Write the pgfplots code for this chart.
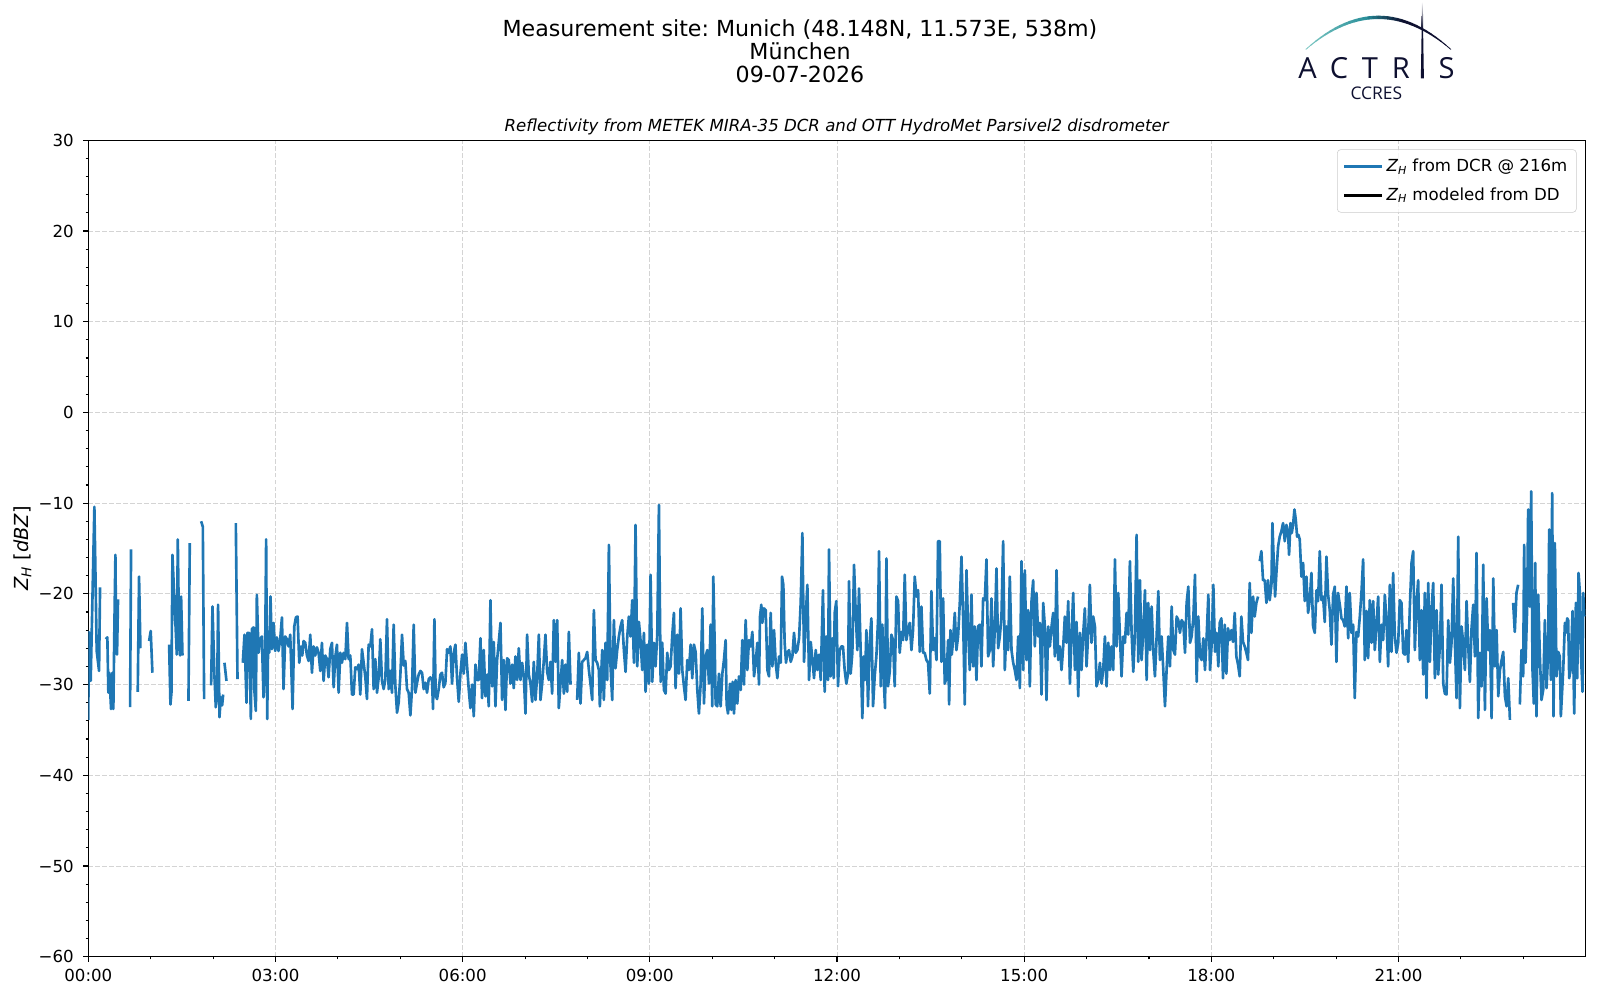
\documentclass[border=0pt]{standalone}
\usepackage{fontspec}
\setmainfont{DejaVu Sans}
\newfontfamily\logofont{Open Sans}
\usepackage{pgfplots}
\usepackage{pgfplotstable}
\pgfplotsset{compat=1.18}
\definecolor{mplblue}{RGB}{31,119,180}
\definecolor{gridgray}{RGB}{212,212,212}
\definecolor{legframe}{RGB}{204,204,204}
\definecolor{actnavy}{RGB}{14,16,48}
\definecolor{actlight}{RGB}{125,200,195}
\definecolor{actmid}{RGB}{38,140,152}
\frenchspacing

\pgfplotstableread{
h v
0.000 -33.9
0.006 -24.2
0.038 -29.6
0.097 -10.4
0.134 -26.3
0.172 -28.5
0.188 -19.3
0.230 nan
0.279 -25.0
0.305 -24.8
0.321 -30.9
0.337 -28.7
0.364 -32.7
0.385 -28.7
0.401 -32.7
0.418 -23.4
0.434 -15.7
0.444 -23.4
0.460 -26.7
0.476 -20.6
0.570 nan
0.669 -32.5
0.685 -15.1
0.740 nan
0.792 -30.8
0.813 -18.1
0.835 -26.0
0.900 nan
0.974 -25.2
1.000 -24.1
1.027 -28.7
1.150 nan
1.295 -25.6
1.316 -32.2
1.332 -30.9
1.348 -15.7
1.418 -26.7
1.434 -14.0
1.455 -25.0
1.471 -26.8
1.487 -20.3
1.509 -26.8
1.550 nan
1.605 -31.8
1.626 -14.4
1.700 nan
1.808 -12.0
1.835 -12.6
1.856 -31.6
1.900 nan
1.968 -30.1
1.990 -21.4
2.021 -29.0
2.043 -32.5
2.065 -30.5
2.080 -21.2
2.102 -33.6
2.123 -31.4
2.145 -32.3
2.161 -31.1
2.170 nan
2.182 -27.6
2.214 -29.6
2.280 nan
2.364 -12.2
2.391 -29.4
2.430 nan
2.476 -27.6
2.503 -24.5
2.535 -32.0
2.551 -24.3
2.578 -24.3
2.605 -33.8
2.621 -23.9
2.648 -23.7
2.664 -30.9
2.685 -32.9
2.701 -20.1
2.728 -26.5
2.754 -25.0
2.781 -24.7
2.808 -31.4
2.834 -26.5
2.850 -14.0
2.867 -33.8
2.883 -24.7
2.899 -26.5
2.920 -20.3
2.942 -26.1
2.968 -23.2
2.995 -26.3
3.022 -24.8
3.048 -26.3
3.076 -25.0
3.103 -22.6
3.129 -30.5
3.156 -24.7
3.183 -25.0
3.210 -25.8
3.236 -24.5
3.274 -32.7
3.301 -23.6
3.327 -22.6
3.354 -22.5
3.381 -27.6
3.408 -25.8
3.429 -26.8
3.450 -25.2
3.477 -25.4
3.504 -26.8
3.531 -27.4
3.557 -24.5
3.584 -28.7
3.611 -25.8
3.637 -26.8
3.664 -25.9
3.691 -26.5
3.718 -28.5
3.744 -25.4
3.771 -29.6
3.798 -26.8
3.825 -27.2
3.851 -29.2
3.878 -26.1
3.905 -25.4
3.932 -30.3
3.958 -27.0
3.985 -25.6
4.012 -30.9
4.039 -26.5
4.065 -27.6
4.092 -26.5
4.119 -27.2
4.146 -23.2
4.172 -27.2
4.199 -26.8
4.226 -31.1
4.252 -31.1
4.279 -28.1
4.306 -28.3
4.333 -27.8
4.359 -31.1
4.386 -26.1
4.413 -27.6
4.440 -29.2
4.466 -31.6
4.493 -25.6
4.520 -25.8
4.547 -23.9
4.573 -30.5
4.600 -27.2
4.627 -30.9
4.654 -29.2
4.680 -25.0
4.707 -29.6
4.734 -30.5
4.761 -29.4
4.787 -22.8
4.814 -30.5
4.841 -28.5
4.867 -30.9
4.894 -23.4
4.921 -30.1
4.948 -33.1
4.974 -32.0
5.001 -29.0
5.028 -24.5
5.055 -27.9
5.081 -27.4
5.108 -30.5
5.135 -30.9
5.162 -33.4
5.188 -30.5
5.215 -23.4
5.242 -30.9
5.269 -29.8
5.295 -28.9
5.322 -28.5
5.349 -28.7
5.375 -30.5
5.402 -29.8
5.429 -30.9
5.456 -29.4
5.482 -29.2
5.509 -29.6
5.525 -32.7
5.547 -22.8
5.568 -31.2
5.589 -31.6
5.616 -30.5
5.643 -28.9
5.669 -28.7
5.696 -30.3
5.723 -29.8
5.750 -26.1
5.776 -26.5
5.803 -25.8
5.830 -29.9
5.857 -26.5
5.884 -25.6
5.910 -29.3
5.937 -31.9
5.964 -28.8
5.991 -26.7
6.017 -28.8
6.044 -25.4
6.071 -28.0
6.098 -30.6
6.124 -32.6
6.151 -30.0
6.178 -33.5
6.205 -27.8
6.231 -29.5
6.258 -29.5
6.285 -24.9
6.311 -31.5
6.338 -26.2
6.365 -31.3
6.392 -28.9
6.418 -32.4
6.445 -20.7
6.472 -30.2
6.499 -25.3
6.525 -32.4
6.552 -27.3
6.579 -25.3
6.606 -23.2
6.632 -31.7
6.659 -27.3
6.686 -32.8
6.713 -27.1
6.739 -27.3
6.766 -29.9
6.793 -27.8
6.819 -30.4
6.846 -26.9
6.873 -29.5
6.900 -26.0
6.926 -29.5
6.953 -27.6
6.980 -29.1
7.007 -33.2
7.033 -24.5
7.060 -28.9
7.087 -29.9
7.114 -31.9
7.140 -27.5
7.167 -31.7
7.194 -29.1
7.221 -24.5
7.247 -31.7
7.274 -29.9
7.301 -27.3
7.327 -24.5
7.354 -28.6
7.381 -29.5
7.408 -27.5
7.434 -31.0
7.461 -22.9
7.488 -27.5
7.515 -22.9
7.541 -32.6
7.568 -29.9
7.595 -27.3
7.622 -31.0
7.648 -27.8
7.675 -30.8
7.702 -24.2
7.729 -30.0
7.780 nan
7.835 -31.7
7.862 -26.5
7.889 -32.1
7.916 -27.5
7.942 -27.3
7.969 -27.1
7.996 -26.4
8.023 -28.4
8.049 -29.9
8.076 -31.7
8.103 -21.8
8.130 -27.3
8.156 -27.6
8.183 -28.4
8.199 -32.4
8.237 -26.2
8.263 -31.7
8.290 -25.4
8.317 -29.5
8.344 -14.6
8.370 -28.0
8.397 -31.7
8.424 -22.9
8.450 -28.2
8.477 -26.2
8.504 -24.7
8.531 -23.6
8.557 -22.9
8.584 -26.2
8.611 -28.6
8.638 -24.7
8.664 -22.5
8.691 -24.7
8.718 -20.7
8.745 -27.6
8.771 -12.4
8.798 -28.0
8.825 -23.1
8.851 -25.1
8.878 -28.4
8.905 -24.3
8.932 -30.8
8.958 -25.6
8.985 -29.9
9.012 -17.9
9.039 -29.7
9.066 -25.4
9.092 -28.0
9.119 -24.5
9.146 -10.2
9.173 -29.7
9.199 -25.4
9.226 -30.6
9.253 -31.0
9.279 -26.5
9.306 -28.4
9.333 -28.0
9.360 -24.5
9.386 -22.1
9.413 -30.4
9.440 -24.5
9.467 -28.8
9.493 -21.6
9.520 -28.4
9.547 -30.2
9.573 -31.7
9.600 -27.3
9.627 -28.4
9.654 -25.6
9.680 -29.3
9.707 -25.6
9.734 -26.4
9.761 -30.6
9.787 -33.2
9.814 -30.0
9.841 -21.6
9.868 -32.1
9.894 -26.9
9.921 -26.2
9.948 -29.9
9.974 -23.4
10.001 -32.4
10.017 -18.1
10.039 -25.4
10.055 -32.2
10.081 -32.4
10.108 -28.8
10.135 -32.4
10.162 -28.8
10.188 -27.3
10.215 -25.1
10.231 -32.2
10.253 -33.2
10.285 -29.9
10.306 -32.8
10.327 -29.7
10.349 -33.2
10.375 -29.5
10.402 -32.1
10.429 -29.1
10.456 -30.6
10.482 -25.1
10.509 -30.0
10.536 -22.9
10.563 -28.4
10.589 -25.1
10.616 -25.8
10.643 -24.2
10.670 -29.1
10.696 -27.6
10.723 -25.4
10.750 -30.0
10.766 -22.5
10.787 -21.2
10.803 -23.2
10.830 -21.6
10.857 -21.8
10.884 -28.4
10.910 -29.1
10.937 -22.1
10.964 -28.0
10.991 -24.0
11.017 -27.6
11.044 -29.3
11.071 -26.9
11.098 -27.6
11.119 -18.1
11.140 -19.0
11.161 -25.4
11.183 -27.6
11.204 -26.5
11.231 -26.2
11.258 -27.5
11.285 -26.9
11.311 -24.3
11.338 -26.5
11.365 -26.2
11.392 -24.9
11.418 -21.0
11.445 -13.3
11.472 -27.5
11.499 -22.5
11.525 -19.0
11.552 -29.5
11.579 -25.3
11.606 -27.3
11.632 -29.3
11.659 -26.2
11.686 -28.4
11.712 -26.7
11.739 -29.5
11.775 -19.6
11.802 -30.8
11.829 -24.7
11.856 -29.5
11.872 -15.1
11.898 -29.1
11.925 -24.9
11.947 -29.3
11.963 -22.1
11.989 -20.8
12.016 -30.2
12.043 -26.2
12.070 -25.8
12.096 -25.8
12.123 -28.4
12.150 -29.9
12.177 -28.8
12.193 -18.6
12.219 -28.8
12.246 -26.5
12.273 -16.8
12.300 -22.1
12.326 -26.2
12.353 -19.4
12.380 -26.5
12.406 -33.7
12.428 -26.9
12.449 -29.5
12.471 -24.0
12.497 -32.4
12.524 -25.3
12.551 -22.7
12.578 -32.4
12.604 -29.1
12.631 -26.9
12.658 -22.9
12.674 -15.3
12.701 -30.2
12.727 -23.4
12.754 -30.2
12.770 -32.6
12.792 -16.1
12.818 -30.2
12.845 -28.6
12.872 -24.5
12.898 -25.1
12.925 -30.2
12.952 -20.3
12.979 -20.8
13.005 -26.5
13.032 -24.2
13.059 -25.1
13.086 -17.9
13.112 -25.1
13.139 -24.0
13.166 -23.2
13.193 -26.2
13.219 -24.0
13.246 -18.1
13.273 -20.3
13.300 -19.6
13.326 -26.4
13.353 -21.4
13.380 -26.5
13.406 -26.5
13.433 -27.3
13.460 -27.6
13.487 -31.0
13.513 -19.7
13.540 -26.2
13.567 -24.9
13.594 -27.3
13.620 -14.2
13.647 -14.2
13.674 -27.5
13.701 -20.5
13.727 -29.9
13.754 -29.3
13.781 -25.1
13.797 -32.2
13.818 -24.0
13.840 -26.7
13.861 -25.1
13.888 -22.1
13.914 -26.2
13.941 -24.7
13.968 -21.0
13.995 -15.9
14.021 -22.5
14.048 -32.2
14.075 -17.4
14.102 -24.0
14.128 -28.4
14.155 -20.1
14.182 -28.0
14.209 -23.6
14.235 -29.5
14.262 -23.6
14.289 -23.4
14.315 -28.0
14.342 -20.5
14.369 -20.7
14.396 -16.2
14.422 -26.9
14.449 -26.2
14.476 -20.5
14.503 -28.0
14.529 -24.0
14.556 -17.2
14.583 -26.0
14.610 -24.7
14.636 -22.5
14.663 -14.2
14.690 -28.4
14.717 -23.6
14.743 -26.2
14.770 -18.1
14.797 -26.2
14.824 -27.6
14.850 -28.4
14.877 -29.5
14.904 -24.7
14.931 -30.4
14.957 -16.4
14.984 -28.4
15.011 -17.4
15.038 -27.3
15.064 -21.8
15.091 -30.2
15.118 -20.8
15.144 -18.5
15.171 -25.8
15.198 -19.9
15.225 -24.7
15.251 -23.2
15.278 -31.1
15.305 -21.0
15.332 -23.6
15.358 -31.7
15.385 -23.6
15.412 -25.8
15.439 -23.6
15.465 -22.1
15.492 -26.9
15.519 -17.4
15.545 -27.3
15.572 -25.8
15.599 -28.4
15.626 -25.8
15.652 -22.5
15.679 -25.4
15.706 -20.8
15.733 -29.9
15.759 -24.7
15.786 -19.9
15.813 -28.4
15.840 -23.1
15.866 -31.3
15.893 -24.3
15.920 -28.4
15.947 -24.3
15.973 -21.6
16.000 -28.0
16.027 -24.3
16.053 -19.0
16.080 -25.4
16.107 -22.5
16.134 -23.6
16.160 -30.2
16.187 -29.5
16.214 -27.6
16.241 -29.9
16.267 -28.4
16.294 -24.7
16.321 -30.2
16.348 -25.4
16.374 -28.4
16.401 -25.8
16.428 -28.4
16.455 -16.2
16.481 -25.8
16.508 -19.9
16.535 -24.7
16.561 -29.1
16.588 -24.7
16.615 -25.4
16.642 -22.1
16.668 -24.5
16.695 -16.4
16.722 -24.3
16.749 -28.6
16.775 -24.3
16.802 -13.5
16.829 -27.5
16.856 -18.5
16.882 -27.3
16.909 -24.3
16.936 -19.6
16.963 -29.5
16.989 -21.0
17.016 -26.2
17.043 -21.4
17.070 -26.4
17.096 -29.1
17.123 -24.7
17.150 -19.7
17.176 -27.3
17.203 -24.7
17.230 -28.4
17.257 -32.4
17.283 -28.4
17.310 -24.7
17.337 -28.0
17.364 -21.4
17.390 -26.2
17.417 -26.7
17.444 -22.5
17.471 -22.9
17.497 -24.3
17.524 -22.9
17.551 -23.2
17.578 -26.5
17.604 -21.0
17.631 -19.2
17.658 -25.4
17.684 -24.7
17.711 -22.7
17.738 -17.9
17.765 -29.7
17.791 -22.5
17.818 -26.9
17.845 -27.3
17.872 -24.9
17.898 -28.4
17.925 -24.7
17.952 -20.1
17.979 -28.4
18.005 -25.6
18.032 -19.0
18.059 -26.4
18.086 -24.3
18.112 -28.0
18.134 -23.2
18.161 -22.7
18.187 -29.3
18.214 -23.4
18.241 -28.8
18.268 -23.8
18.294 -25.1
18.321 -24.0
18.348 -25.3
18.375 -22.1
18.401 -26.9
18.428 -27.8
18.455 -29.1
18.481 -22.5
18.508 -25.3
18.535 -25.8
18.562 -26.5
18.588 -27.3
18.615 -18.8
18.642 -24.3
18.669 -20.3
18.695 -22.5
18.722 -21.0
18.749 -20.3
18.760 nan
18.776 -16.4
18.802 -15.3
18.829 -18.5
18.856 -18.5
18.883 -21.0
18.909 -18.5
18.936 -20.7
18.963 -19.0
18.979 -12.2
19.000 -16.4
19.022 -20.3
19.043 -17.7
19.070 -14.8
19.096 -13.7
19.123 -13.1
19.150 -12.2
19.177 -14.2
19.203 -12.4
19.230 -13.3
19.246 -15.7
19.268 -12.2
19.289 -13.3
19.310 -12.4
19.332 -10.7
19.353 -11.8
19.375 -13.7
19.396 -13.5
19.417 -14.0
19.444 -18.1
19.471 -16.6
19.497 -20.8
19.524 -18.1
19.551 -22.1
19.578 -20.7
19.604 -17.7
19.631 -23.6
19.658 -24.3
19.685 -19.6
19.711 -20.8
19.738 -15.3
19.765 -20.7
19.791 -20.3
19.818 -23.1
19.845 -15.9
19.872 -20.1
19.898 -21.8
19.925 -25.6
19.952 -20.1
19.979 -19.2
20.005 -27.5
20.032 -19.9
20.059 -21.2
20.086 -22.7
20.112 -22.9
20.139 -23.6
20.166 -19.2
20.193 -24.9
20.219 -19.9
20.246 -24.3
20.273 -23.4
20.299 -31.5
20.326 -24.2
20.353 -24.7
20.380 -22.5
20.406 -19.9
20.433 -16.2
20.460 -27.3
20.487 -21.9
20.513 -27.1
20.540 -20.7
20.567 -25.4
20.594 -20.8
20.620 -26.2
20.647 -23.4
20.674 -20.3
20.701 -27.5
20.727 -23.4
20.754 -25.1
20.781 -20.1
20.807 -22.9
20.834 -28.0
20.861 -19.0
20.888 -26.4
20.914 -17.7
20.941 -24.7
20.968 -26.5
20.995 -25.4
21.021 -20.7
21.048 -21.0
21.075 -26.5
21.102 -26.7
21.128 -24.0
21.155 -27.5
21.182 -21.4
21.209 -16.6
21.235 -15.3
21.262 -26.2
21.289 -21.0
21.315 -18.5
21.342 -27.3
21.369 -21.8
21.396 -28.9
21.422 -19.9
21.449 -31.5
21.476 -18.8
21.503 -27.5
21.529 -21.8
21.556 -18.8
21.583 -29.3
21.610 -21.8
21.636 -28.9
21.663 -25.8
21.690 -19.0
21.717 -29.9
21.743 -31.0
21.770 -31.1
21.797 -22.9
21.824 -27.6
21.850 -25.4
21.877 -18.3
21.904 -25.4
21.930 -31.5
21.957 -13.7
21.984 -32.6
22.011 -23.6
22.037 -25.4
22.064 -28.4
22.091 -20.8
22.118 -25.8
22.144 -29.7
22.171 -23.8
22.198 -21.2
22.225 -26.9
22.251 -15.5
22.278 -33.7
22.305 -26.5
22.332 -30.2
22.358 -16.8
22.385 -32.8
22.412 -20.5
22.439 -26.2
22.465 -24.0
22.492 -33.7
22.519 -18.3
22.546 -28.0
22.572 -24.0
22.599 -31.3
22.626 -28.4
22.653 -27.3
22.679 -26.4
22.706 -31.3
22.733 -32.4
22.759 -29.3
22.786 -33.9
22.810 nan
22.838 -21.0
22.864 -24.2
22.891 -19.9
22.918 -19.0
22.930 nan
22.945 -32.2
22.971 -26.2
22.998 -29.1
23.014 -14.6
23.036 -27.6
23.062 -21.6
23.078 -10.7
23.105 -21.4
23.127 -8.7
23.148 -28.4
23.169 -32.1
23.191 -16.6
23.212 -33.5
23.239 -20.1
23.266 -26.9
23.292 -31.7
23.319 -30.6
23.346 -22.9
23.373 -30.4
23.399 -26.5
23.415 -12.9
23.442 -29.5
23.463 -8.9
23.485 -33.5
23.506 -14.4
23.533 -29.1
23.560 -26.4
23.586 -26.9
23.602 -33.5
23.640 -28.4
23.667 -23.2
23.683 -24.3
23.704 -22.7
23.720 -22.9
23.736 -29.3
23.758 -28.4
23.790 -21.9
23.816 -33.2
23.843 -21.0
23.865 -29.3
23.886 -17.7
23.907 -19.9
23.923 -26.5
23.950 -30.8
23.961 -19.9
23.977 -22.5
}\dcrdata

\begin{document}
\begin{tikzpicture}
\useasboundingbox (0,0) rectangle (1152bp,720bp);
% titles
\node[anchor=base, font=\fontsize{16}{19}\selectfont] at (576bp,693.5bp) {Measurement site: Munich (48.148N, 11.573E, 538m)};
\node[anchor=base, font=\fontsize{16}{19}\selectfont] at (576bp,677.4bp) {München};
\node[anchor=base, font=\fontsize{16}{19}\selectfont] at (576bp,660.5bp) {09-07-2026};
\node[anchor=base, font=\fontsize{12}{14}\selectfont\itshape] at (602.4bp,625.2bp) {Reflectivity from METEK MIRA-35 DCR and OTT HydroMet Parsivel2 disdrometer};
% logo: arc
\foreach \i in {0,...,29} {
  \pgfmathsetmacro\ta{\i/30}
  \pgfmathsetmacro\tb{(\i+1)/30}
  \pgfmathsetmacro\tm{(\i+0.5)/30}
  \pgfmathsetmacro\xa{940.3+104.2*\ta}
  \pgfmathsetmacro\xb{940.3+104.2*\tb}
  \pgfmathsetmacro\ya{684.5+92*\ta*(1-\ta)}
  \pgfmathsetmacro\yb{684.5+92*\tb*(1-\tb)}
  \pgfmathsetmacro\lw{0.5+1.9*sin(180*\tm)}
  \pgfmathtruncatemacro\ma{min(100,max(0,100*\tm/0.45))}
  \pgfmathtruncatemacro\mb{min(100,max(0,100*(\tm-0.42)/0.25))}
  \colorlet{arcc}{actmid!\ma!actlight}
  \colorlet{arcc}{actnavy!\mb!arcc}
  \draw[line width=\lw bp, line cap=round, color=arcc] (\xa bp,\ya bp) -- (\xb bp,\yb bp);
}
\fill[actnavy] (1023.0bp,663.6bp) -- (1025.2bp,663.6bp) -- (1024.6bp,700bp) -- (1023.6bp,700bp) -- cycle;
\shade[top color=white, bottom color=actnavy] (1023.6bp,699.5bp) -- (1024.6bp,699.5bp) -- (1024.5bp,718.8bp) -- (1023.7bp,718.8bp) -- cycle;
\begin{scope}[every node/.style={anchor=base, inner sep=0pt, text=actnavy, font=\logofont\fontsize{21}{24}\selectfont}]
\node at (941.4bp,663.6bp) {A};
\node at (964.1bp,663.6bp) {C};
\node at (986.4bp,663.6bp) {T};
\node at (1008.6bp,663.6bp) {R};
\node at (1041.5bp,663.6bp) {S};
\end{scope}
\node[anchor=base, inner sep=0pt, text=actnavy, font=\logofont\fontsize{12.6}{14}\selectfont] at (991bp,648.5bp) {CCRES};

\begin{axis}[
  at={(63.6bp,31.2bp)}, anchor=south west,
  width=1078.1bp, height=587.8bp, scale only axis,
  xmin=0, xmax=24, ymin=-60, ymax=30,
  xtick={0,3,...,21},
  xticklabels={00:00,03:00,06:00,09:00,12:00,15:00,18:00,21:00},
  minor xtick={1,2,4,5,7,8,10,11,13,14,16,17,19,20,22,23},
  ytick={-60,-50,...,30},
  yticklabels={−60,−50,−40,−30,−20,−10,0,10,20,30},
  minor ytick={-58,-56,...,28},
  grid=major,
  major grid style={gridgray, dash pattern=on 3.5bp off 1.5bp, line width=0.6bp},
  tick align=outside, tick pos=left,
  major tick length=3.5bp, minor tick length=2bp,
  every tick/.style={black, line width=0.8bp},
  axis line style={line width=0.8bp},
  tick label style={font=\fontsize{12}{14}\selectfont},
  yticklabel style={xshift=-3.5bp},
  xticklabel style={yshift=-2bp},
  ylabel={\textit{Z}\textsubscript{\textit{H}} [\textit{dBZ}]},
  every axis y label/.style={at={(axis description cs:-0.04397,0.5)}, rotate=90, anchor=center, font=\fontsize{14}{16}\selectfont},
  unbounded coords=jump,
  legend style={at={(1,1)}, anchor=north east, xshift=-6.5bp, yshift=-6.5bp,
    draw=legframe, rounded corners=2.5bp, fill=white, fill opacity=0.8, text opacity=1,
    font=\fontsize{12}{14}\selectfont, inner xsep=4bp, inner ysep=4.5bp,
    row sep=5bp, nodes={inner sep=2.5bp}},
  legend cell align=left,
  legend image code/.code={\draw[#1] (0bp,0bp) -- (27bp,0bp);},
]
\addlegendimage{mplblue, line width=1.9bp}
\addlegendentry{\textit{Z}\textsubscript{\textit{H}} from DCR @ 216m}
\addlegendimage{black, line width=1.9bp}
\addlegendentry{\textit{Z}\textsubscript{\textit{H}} modeled from DD}
\addplot[mplblue, line width=1.9bp, line join=round, no markers, forget plot] table[x=h, y=v] {\dcrdata};
\end{axis}
\end{tikzpicture}
\end{document}
